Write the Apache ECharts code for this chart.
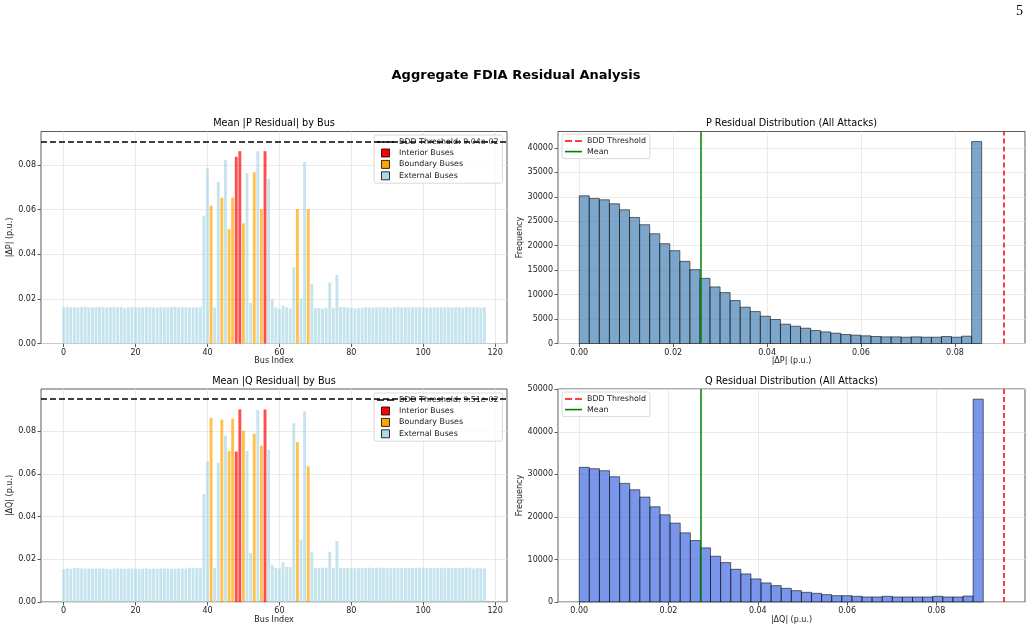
<!DOCTYPE html>
<html>
<head>
<meta charset="utf-8">
<title>Aggregate FDIA Residual Analysis</title>
<script src="https://cdn.jsdelivr.net/npm/echarts@6.0.0/dist/echarts.min.js"></script>
<style>
  html, body { margin: 0; padding: 0; background: #fff; }
  #main { width: 1036px; height: 626px; }
</style>
</head>
<body>
<div id="main"></div>
<script type="text/javascript">
// mean |dP| per bus (p.u.), bus 0..117
var pMean = [
  0.0162, 0.0164, 0.0162, 0.0163, 0.0161, 0.0163, 0.0164, 0.0161, 0.0163, 0.0163,
  0.0164, 0.0163, 0.0161, 0.0163, 0.0163, 0.0162, 0.0163, 0.0159, 0.0162, 0.0163,
  0.0161, 0.0162, 0.0162, 0.0163, 0.0162, 0.0162, 0.0160, 0.0163, 0.0162, 0.0162,
  0.0163, 0.0164, 0.0162, 0.0163, 0.0162, 0.0161, 0.0161, 0.0162, 0.0162, 0.0572,
  0.0784, 0.0617, 0.0162, 0.0724, 0.0653, 0.0822, 0.0512, 0.0653, 0.0836, 0.0861,
  0.0538, 0.0763, 0.0182, 0.0767, 0.0861, 0.0602, 0.0861, 0.0738, 0.0197, 0.0161,
  0.0156, 0.0170, 0.0162, 0.0156, 0.0341, 0.0602, 0.0201, 0.0813, 0.0602, 0.0267,
  0.0159, 0.0160, 0.0156, 0.0160, 0.0273, 0.0160, 0.0307, 0.0163, 0.0163, 0.0160,
  0.0160, 0.0156, 0.0159, 0.0160, 0.0162, 0.0162, 0.0160, 0.0162, 0.0163, 0.0162,
  0.0162, 0.0160, 0.0162, 0.0163, 0.0161, 0.0162, 0.0162, 0.0163, 0.0162, 0.0162,
  0.0163, 0.0160, 0.0162, 0.0162, 0.0161, 0.0163, 0.0162, 0.0162, 0.0162, 0.0163,
  0.0162, 0.0160, 0.0163, 0.0162, 0.0162, 0.0163, 0.0160, 0.0162
];
// mean |dQ| per bus (p.u.)
var qMean = [
  0.0155, 0.0158, 0.0156, 0.0160, 0.0160, 0.0158, 0.0157, 0.0157, 0.0156, 0.0157,
  0.0157, 0.0157, 0.0155, 0.0154, 0.0157, 0.0157, 0.0157, 0.0156, 0.0157, 0.0157,
  0.0157, 0.0155, 0.0157, 0.0158, 0.0155, 0.0157, 0.0156, 0.0157, 0.0157, 0.0157,
  0.0156, 0.0156, 0.0157, 0.0157, 0.0157, 0.0161, 0.0159, 0.0160, 0.0159, 0.0506,
  0.0659, 0.0863, 0.0160, 0.0653, 0.0855, 0.0780, 0.0708, 0.0860, 0.0705, 0.0903,
  0.0803, 0.0708, 0.0230, 0.0789, 0.0900, 0.0733, 0.0903, 0.0714, 0.0175, 0.0160,
  0.0157, 0.0186, 0.0164, 0.0164, 0.0838, 0.0750, 0.0293, 0.0894, 0.0636, 0.0233,
  0.0160, 0.0160, 0.0161, 0.0160, 0.0235, 0.0160, 0.0286, 0.0160, 0.0160, 0.0159,
  0.0160, 0.0159, 0.0158, 0.0160, 0.0160, 0.0161, 0.0159, 0.0160, 0.0161, 0.0160,
  0.0160, 0.0159, 0.0160, 0.0159, 0.0159, 0.0160, 0.0159, 0.0160, 0.0160, 0.0161,
  0.0160, 0.0159, 0.0160, 0.0160, 0.0160, 0.0159, 0.0161, 0.0160, 0.0160, 0.0160,
  0.0159, 0.0160, 0.0160, 0.0161, 0.0157, 0.0159, 0.0158, 0.0157
];
var interiorBuses = [48, 49, 56];
var boundaryBuses = [41, 44, 46, 47, 50, 53, 55, 65, 68];

var pThreshold = 0.0904;
var qThreshold = 0.0951;
var pMeanResidual = 0.0258;
var qMeanResidual = 0.0272;

// histogram counts, 40 equal bins from 0 to the max residual
var pHistCounts = [
  30200, 29660, 29390, 28570, 27350, 25780, 24290, 22450, 20410, 18980,
  16800, 15100, 13330, 11570, 10410, 8780, 7420, 6530, 5580, 4900,
  3950, 3540, 3130, 2650, 2380, 2110, 1840, 1700, 1570, 1430,
  1360, 1360, 1290, 1360, 1290, 1290, 1430, 1290, 1500, 41290
];
var pHistMax = 0.0857;
var qHistCounts = [
  31660, 31340, 30870, 29460, 27890, 26390, 24670, 22390, 20500, 18540,
  16260, 14450, 12730, 10760, 9270, 7700, 6600, 5420, 4480, 3850,
  3220, 2670, 2280, 2040, 1730, 1490, 1490, 1340, 1180, 1180,
  1340, 1180, 1180, 1180, 1180, 1340, 1180, 1180, 1410, 47700
];
var qHistMax = 0.0905;

var busTicks = [0, 20, 40, 60, 80, 100, 120];
var residualTicks = [0, 0.02, 0.04, 0.06, 0.08];
var pFreqTicks = [0, 5000, 10000, 15000, 20000, 25000, 30000, 35000, 40000];
var qFreqTicks = [0, 10000, 20000, 30000, 40000, 50000];

var FONT = 'DejaVu Sans';
var TXT = '#222';
var grids = [
  { left: 41, top: 131.5, width: 466, height: 212 },
  { left: 558, top: 131.5, width: 467, height: 212 },
  { left: 41, top: 389, width: 466, height: 213 },
  { left: 558, top: 389, width: 467, height: 213 }
];
grids.forEach(function (g) {
  g.show = true;
  g.borderColor = '#333';
  g.borderWidth = 0.8;
  g.backgroundColor = '#fff';
});

function makeAxis(idx, min, max, ticks, fmt, name, gap, isY) {
  return {
    type: 'value',
    gridIndex: idx,
    min: min,
    max: max,
    name: name,
    nameLocation: 'middle',
    nameGap: gap,
    nameRotate: isY ? 90 : 0,
    nameTextStyle: { fontFamily: FONT, fontSize: 8, color: TXT },
    axisLine: { show: false, onZero: false },
    axisTick: { show: true, length: 3.5, customValues: ticks, lineStyle: { color: '#333', width: 0.8 } },
    axisLabel: { customValues: ticks, formatter: fmt, fontFamily: FONT, fontSize: 8, color: TXT, margin: 5 },
    splitLine: { show: true, lineStyle: { color: '#e6e6e6', width: 0.8 } }
  };
}
function fmt2(v) { return v.toFixed(2); }
function fmt0(v) { return String(Math.round(v)); }

var busMin = -6.29, busMax = 123.29;
var busBarWidth = 466 / (busMax - busMin) * 0.8;

function vLine(value, color, type) {
  return {
    silent: true, symbol: 'none', precision: 10, label: { show: false },
    lineStyle: { color: color, width: 1.5, type: type },
    data: [{ xAxis: value }]
  };
}

function busSeries(values, idx, thrName, thr) {
  var interior = [], boundary = [], external = [];
  values.forEach(function (v, i) {
    if (interiorBuses.indexOf(i) >= 0) interior.push([i, v]);
    else if (boundaryBuses.indexOf(i) >= 0) boundary.push([i, v]);
    else external.push([i, v]);
  });
  function bar(name, data, color) {
    return {
      name: name, type: 'bar', xAxisIndex: idx, yAxisIndex: idx,
      data: data, barWidth: busBarWidth, barGap: '-100%',
      itemStyle: { color: color }, silent: true
    };
  }
  return [
    bar('External Buses', external, 'rgba(173,216,230,0.7)'),
    bar('Boundary Buses', boundary, 'rgba(255,165,0,0.7)'),
    bar('Interior Buses', interior, 'rgba(255,0,0,0.7)'),
    {
      name: thrName, type: 'line', xAxisIndex: idx, yAxisIndex: idx, data: [],
      symbol: 'none', lineStyle: { color: '#000', width: 1.5, type: [6, 3] },
      itemStyle: { color: '#000' },
      markLine: {
        silent: true, symbol: 'none', precision: 10, label: { show: false },
        lineStyle: { color: '#000', width: 1.5, type: [6, 3] },
        data: [{ yAxis: thr }]
      }
    }
  ];
}

function histData(counts, maxVal) {
  var w = maxVal / counts.length;
  return counts.map(function (c, i) { return [i * w, (i + 1) * w, c]; });
}
function histSeries(counts, maxVal, idx, fill, thr, mean) {
  return [
    {
      name: 'hist' + idx, type: 'custom', xAxisIndex: idx, yAxisIndex: idx,
      data: histData(counts, maxVal), encode: { x: [0, 1], y: 2 }, silent: true,
      renderItem: function (params, api) {
        var a = api.coord([api.value(0), api.value(2)]);
        var b = api.coord([api.value(1), 0]);
        return {
          type: 'rect',
          shape: { x: a[0], y: a[1], width: b[0] - a[0], height: b[1] - a[1] },
          style: { fill: fill, stroke: 'rgba(0,0,0,0.7)', lineWidth: 0.8 }
        };
      }
    },
    {
      name: 'BDD Threshold', type: 'line', xAxisIndex: idx, yAxisIndex: idx, data: [],
      symbol: 'none', lineStyle: { color: '#ff0000', width: 1.5 },
      itemStyle: { color: '#ff0000' },
      markLine: vLine(thr, '#ff0000', [5, 3])
    },
    {
      name: 'Mean', type: 'line', xAxisIndex: idx, yAxisIndex: idx, data: [],
      symbol: 'none', lineStyle: { color: '#008000', width: 1.5 },
      itemStyle: { color: '#008000' },
      markLine: vLine(mean, '#008000', 'solid')
    }
  ];
}

var square = 'path://M0,0h10v10h-10z';
var dashIcon = 'path://M0,0h7v1.6h-7z M10,0h7v1.6h-7z';
var solidIcon = 'path://M0,0h17v1.6h-17z';
var legendBase = {
  orient: 'vertical', padding: [3, 4, 3, 3],
  itemWidth: 17, itemHeight: 8, itemGap: 2.6,
  backgroundColor: 'rgba(255,255,255,0.8)', borderColor: '#d0d0d0', borderWidth: 0.8, borderRadius: 2,
  textStyle: { fontFamily: FONT, fontSize: 7.9, color: TXT },
  selectedMode: false
};
function busLegend(left, top, thrName) {
  return Object.assign({}, legendBase, {
    left: left, top: top,
    data: [
      { name: thrName, icon: dashIcon, itemStyle: { color: '#000', borderWidth: 0 } },
      { name: 'Interior Buses', icon: square, itemStyle: { color: '#ff0000', borderColor: '#000', borderWidth: 0.8 } },
      { name: 'Boundary Buses', icon: square, itemStyle: { color: '#ffa500', borderColor: '#000', borderWidth: 0.8 } },
      { name: 'External Buses', icon: square, itemStyle: { color: '#add8e6', borderColor: '#000', borderWidth: 0.8 } }
    ]
  });
}
function histLegend(left, top) {
  return Object.assign({}, legendBase, {
    left: left, top: top,
    data: [
      { name: 'BDD Threshold', icon: dashIcon, itemStyle: { color: '#ff0000', borderWidth: 0 } },
      { name: 'Mean', icon: solidIcon, itemStyle: { color: '#008000', borderWidth: 0 } }
    ]
  });
}

var pThrName = 'BDD Threshold: ' + pThreshold.toExponential(2).replace('e-', 'e-0');
var qThrName = 'BDD Threshold: ' + qThreshold.toExponential(2).replace('e-', 'e-0');

var pHistXMax = pThreshold * 1.05, pHistXMin = -pThreshold * 0.05;
var qHistXMax = qThreshold * 1.05, qHistXMin = -qThreshold * 0.05;

function subTitle(text, x, y) {
  return { text: text, left: x, top: y, textAlign: 'center', padding: 0,
    textStyle: { fontFamily: FONT, fontSize: 9.7, fontWeight: 'normal', color: '#000' } };
}

var option = {
  animation: false,
  backgroundColor: '#fff',
  title: [
    { text: '5', left: 1016, top: 4, padding: 0,
      textStyle: { fontFamily: 'Liberation Serif', fontSize: 14, fontWeight: 'normal', color: '#000' } },
    { text: 'Aggregate FDIA Residual Analysis', left: 516, top: 69, textAlign: 'center', padding: 0,
      textStyle: { fontFamily: FONT, fontSize: 13, fontWeight: 'bold', color: '#000' } },
    subTitle('Mean |P Residual| by Bus', 274, 118),
    subTitle('P Residual Distribution (All Attacks)', 791.5, 118),
    subTitle('Mean |Q Residual| by Bus', 274, 376),
    subTitle('Q Residual Distribution (All Attacks)', 791.5, 376)
  ],
  grid: grids,
  xAxis: [
    makeAxis(0, busMin, busMax, busTicks, fmt0, 'Bus Index', 13.5, false),
    makeAxis(1, pHistXMin, pHistXMax, residualTicks, fmt2, '|ΔP| (p.u.)', 13.5, false),
    makeAxis(2, busMin, busMax, busTicks, fmt0, 'Bus Index', 13, false),
    makeAxis(3, qHistXMin, qHistXMax, residualTicks, fmt2, '|ΔQ| (p.u.)', 13, false)
  ],
  yAxis: [
    makeAxis(0, 0, pThreshold * 1.05, residualTicks, fmt2, '|ΔP| (p.u.)', 25, true),
    makeAxis(1, 0, 41290 * 1.05, pFreqTicks, fmt0, 'Frequency', 33, true),
    makeAxis(2, 0, qThreshold * 1.05, residualTicks, fmt2, '|ΔQ| (p.u.)', 25, true),
    makeAxis(3, 0, 47700 * 1.05, qFreqTicks, fmt0, 'Frequency', 33, true)
  ],
  legend: [
    busLegend(374, 135, pThrName),
    histLegend(562, 134),
    busLegend(374, 393, qThrName),
    histLegend(562, 392)
  ],
  series: [].concat(
    busSeries(pMean, 0, pThrName, pThreshold),
    histSeries(pHistCounts, pHistMax, 1, 'rgba(70,130,180,0.7)', pThreshold, pMeanResidual),
    busSeries(qMean, 2, qThrName, qThreshold),
    histSeries(qHistCounts, qHistMax, 3, 'rgba(65,105,225,0.7)', qThreshold, qMeanResidual)
  )
};

var myChart = echarts.init(document.getElementById('main'));
myChart.setOption(option);
</script>
</body>
</html>
